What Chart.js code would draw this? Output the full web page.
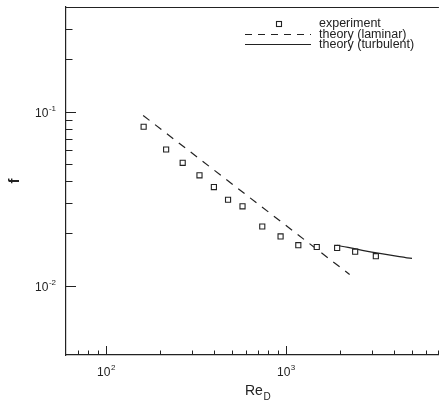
<!DOCTYPE html>
<html>
<head>
<meta charset="utf-8">
<script src="https://cdn.jsdelivr.net/npm/chart.js@4.4.0/dist/chart.umd.min.js"></script>
<style>
  html, body { margin: 0; padding: 0; background: #fff; }
  #wrap { width: 444px; height: 401px; }
</style>
</head>
<body>
<div id="wrap"><canvas id="graph"></canvas></div>
<script>
// experiment points (Re_D, f)
const expRe = [162, 216, 267, 331, 398, 477, 574, 739, 934, 1172, 1484, 1926, 2425, 3160];
const expF = [0.0820, 0.0607, 0.0509, 0.0431, 0.0369, 0.0312, 0.0286, 0.0219, 0.0192, 0.0171, 0.0167, 0.0165, 0.0157, 0.0148];

// theory curves
const lamRe = [161, 2260];
const lamF = [0.0952, 0.0116];
const turbRe = [1926, 3000, 5020];
const turbF = [0.0171, 0.0156, 0.01435];

// tick positions
const xMajor = [100, 1000];
const xMinor = [70, 80, 90, 200, 300, 400, 500, 600, 700, 800, 900, 2000, 3000, 4000, 5000, 6000, 7000];
const xLabels = [["10", "2", 100], ["10", "3", 1000]];
const yMajor = [0.01, 0.1];
const yMinor = [0.02, 0.03, 0.04, 0.05, 0.06, 0.07, 0.08, 0.09, 0.2, 0.3];
const yLabels = [["10", "-1", 0.1], ["10", "-2", 0.01]];

const legendNames = ["experiment", "theory (laminar)", "theory (turbulent)"];

const toPts = (xs, ys) => xs.map((x, i) => ({x: x, y: ys[i]}));

const FONT = "'Liberation Sans', Arial, sans-serif";

// inward ticks, tick labels, axis titles, frame top and legend
const decorPlugin = {
  id: "decor",
  afterDraw(chart) {
    const ctx = chart.ctx;
    const xs = chart.scales.x, ys = chart.scales.y;
    const a = chart.chartArea;
    ctx.save();
    ctx.strokeStyle = "#222";
    ctx.fillStyle = "#222";
    ctx.lineWidth = 1.2;

    // top frame line
    ctx.beginPath();
    ctx.moveTo(a.left, a.top + 0.5);
    ctx.lineTo(a.right, a.top + 0.5);
    ctx.stroke();

    ctx.lineWidth = 1;
    const xTick = (v, len) => {
      const p = Math.round(xs.getPixelForValue(v)) + 0.5;
      ctx.beginPath();
      ctx.moveTo(p, a.bottom);
      ctx.lineTo(p, a.bottom - len);
      ctx.stroke();
    };
    const yTick = (v, len) => {
      const p = Math.round(ys.getPixelForValue(v)) + 0.5;
      ctx.beginPath();
      ctx.moveTo(a.left, p);
      ctx.lineTo(a.left + len, p);
      ctx.stroke();
    };
    xMajor.forEach(v => xTick(v, 9));
    xMinor.forEach(v => xTick(v, 4.5));
    yMajor.forEach(v => yTick(v, 10));
    yMinor.forEach(v => yTick(v, 6.5));

    // x tick labels with superscript
    ctx.textBaseline = "alphabetic";
    xLabels.forEach(([base, exp, v]) => {
      ctx.font = "12px " + FONT;
      const wb = ctx.measureText(base).width;
      ctx.font = "8px " + FONT;
      const we = ctx.measureText(exp).width;
      const cx = xs.getPixelForValue(v);
      const x0 = cx - (wb + we) / 2;
      ctx.font = "12px " + FONT;
      ctx.textAlign = "left";
      ctx.fillText(base, x0, 376);
      ctx.font = "8px " + FONT;
      ctx.fillText(exp, x0 + wb + 0.5, 370);
    });

    // y tick labels with superscript
    yLabels.forEach(([base, exp, v]) => {
      const cy = ys.getPixelForValue(v);
      ctx.font = "8px " + FONT;
      const we = ctx.measureText(exp).width;
      const right = a.left - 10;
      ctx.textAlign = "left";
      ctx.fillText(exp, right - we, cy - 1);
      ctx.font = "12px " + FONT;
      const wb = ctx.measureText(base).width;
      ctx.fillText(base, right - we - wb - 0.5, cy + 5);
    });

    // axis titles
    ctx.font = "14px " + FONT;
    ctx.textAlign = "left";
    ctx.fillText("Re", 245, 395);
    const wRe = ctx.measureText("Re").width;
    ctx.font = "10px " + FONT;
    ctx.fillText("D", 245 + wRe + 0.5, 400);

    ctx.save();
    ctx.translate(19, (a.top + a.bottom) / 2);
    ctx.rotate(-Math.PI / 2);
    ctx.font = "bold 15px " + FONT;
    ctx.textAlign = "center";
    ctx.fillText("f", 0, 0);
    ctx.restore();

    // legend
    const lx = 319, ly = [24, 34.5, 44.5];
    ctx.font = "12.5px " + FONT;
    ctx.textAlign = "left";
    ctx.textBaseline = "middle";
    legendNames.forEach((n, i) => ctx.fillText(n, lx, ly[i]));
    ctx.lineWidth = 1.1;
    ctx.strokeRect(276.5, ly[0] - 2.5, 5, 5);
    ctx.setLineDash([7, 6]);
    ctx.beginPath();
    ctx.moveTo(245, ly[1]);
    ctx.lineTo(311, ly[1]);
    ctx.stroke();
    ctx.setLineDash([]);
    ctx.beginPath();
    ctx.moveTo(245, ly[2]);
    ctx.lineTo(311, ly[2]);
    ctx.stroke();
    ctx.restore();
  }
};

const chart = new Chart(document.getElementById("graph"), {
  type: "scatter",
  data: {
    datasets: [
      {
        label: legendNames[0],
        data: toPts(expRe, expF),
        pointStyle: "rect",
        pointRadius: 3.6,
        pointBorderWidth: 1.1,
        pointBorderColor: "#222",
        pointBackgroundColor: "#fff",
        showLine: false
      },
      {
        label: legendNames[1],
        data: toPts(lamRe, lamF),
        showLine: true,
        borderColor: "#222",
        borderWidth: 1.2,
        borderDash: [8, 7],
        pointRadius: 0
      },
      {
        label: legendNames[2],
        data: toPts(turbRe, turbF),
        showLine: true,
        borderColor: "#222",
        borderWidth: 1.2,
        pointRadius: 0,
        tension: 0.3
      }
    ]
  },
  options: {
    responsive: true,
    maintainAspectRatio: false,
    animation: false,
    layout: { padding: { left: 66, top: 7, right: 0, bottom: 46 } },
    plugins: { legend: { display: false }, tooltip: { enabled: false } },
    scales: {
      x: {
        type: "logarithmic",
        min: 60,
        max: 7080,
        bounds: "data",
        ticks: { display: false },
        grid: { display: false },
        border: { display: true, color: "#222", width: 1.2 },
        afterFit(scale) { scale.height = 0; }
      },
      y: {
        type: "logarithmic",
        min: 0.004,
        max: 0.4,
        bounds: "data",
        ticks: { display: false },
        grid: { display: false },
        border: { display: true, color: "#222", width: 1.2 },
        afterFit(scale) { scale.width = 0; }
      }
    }
  },
  plugins: [decorPlugin]
});
</script>
</body>
</html>
